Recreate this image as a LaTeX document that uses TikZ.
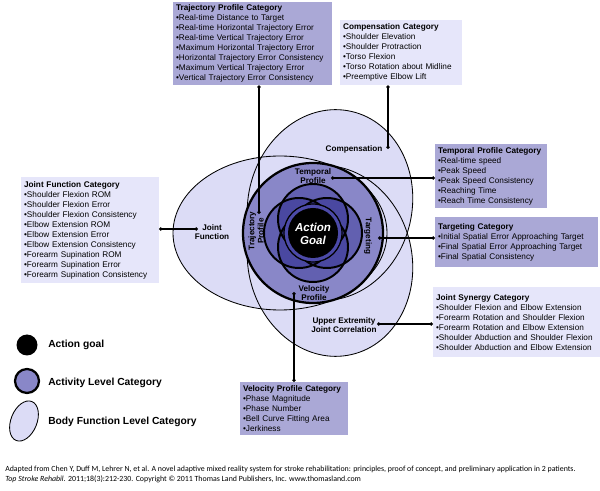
\documentclass[tikz,border=0pt]{standalone}
\usepackage{fontspec}
\setmainfont{Liberation Sans}
\newfontfamily\capfont{Carlito}
\usetikzlibrary{arrows.meta,positioning}
\definecolor{actfill}{RGB}{170,168,214}
\definecolor{bodyfill}{RGB}{230,230,250}
\definecolor{ellfill}{RGB}{220,220,246}
\definecolor{ringfill}{RGB}{137,135,200}
\definecolor{petal}{RGB}{40,38,140}
\definecolor{goalring}{RGB}{76,74,168}

\begin{document}
\begin{tikzpicture}[x=0.025cm, y=0.025cm,
    darkbox/.style={rectangle, fill=actfill, anchor=north west, align=left, inner xsep=2pt, inner ysep=1.5pt, font=\fontsize{5.85}{7.1}\selectfont},
    lightbox/.style={darkbox, fill=bodyfill},
    lbl/.style={align=center, font=\fontsize{5.8}{6.6}\selectfont\bfseries, inner sep=0pt},
    legendtxt/.style={anchor=west, font=\fontsize{7.3}{8}\selectfont\bfseries, inner sep=0pt},
    bodyline/.style={line width=0.6pt},
    link/.style={{Circle[length=2.4pt]}-{Circle[length=2.4pt]}, line width=0.8pt}
]
    \useasboundingbox (0,0) rectangle (600,-491);
    \coordinate (ctr) at (313,-233);

    % body function level
    \fill[ellfill] (280,-233) ellipse [x radius=107, y radius=77];
    \fill[ellfill, rotate around={-13:(330,-205)}] (330,-205) ellipse [x radius=82, y radius=96];
    \fill[ellfill, rotate around={13:(330,-261)}] (330,-261) ellipse [x radius=82, y radius=96];
    \draw[bodyline] (280,-233) ellipse [x radius=107, y radius=77];
    \draw[bodyline, rotate around={-13:(330,-205)}] (330,-205) ellipse [x radius=82, y radius=96];
    \draw[bodyline, rotate around={13:(330,-261)}] (330,-261) ellipse [x radius=82, y radius=96];

    % activity level
    \fill[ringfill] (ctr) circle (70);
    \foreach \a in {0,90,180,270}
        \fill[petal, fill opacity=0.4] (313,-233) ++(\a:14) circle (35);
    \foreach \a in {0,90,180,270}
        \draw[line width=1.4pt] (313,-233) ++(\a:14) circle (35);
    \draw[line width=1.6pt] (ctr) circle (70);
    \draw[fill=goalring, line width=0.9pt] (ctr) circle (29);
    \fill[black] (ctr) circle (25);
    \node[align=center, text=white, font=\fontsize{8.2}{9.4}\selectfont\bfseries\itshape] (goal) at (313,-233.5) {Action\\Goal};

    \node[lbl] (templbl) at (313,-176) {Temporal\\Profile};
    \node[lbl, rotate=-90] (targlbl) at (368,-236) {Targeting};
    \node[lbl] (vellbl) at (314,-293) {Velocity\\Profile};
    \node[lbl, rotate=90] (trajlbl) at (256,-231) {Trajectory\\Profile};
    \node[lbl] (jointlbl) at (212,-232) {Joint\\Function};
    \node[lbl] (complbl) at (354,-149.5) {Compensation};
    \node[lbl] (uelbl) at (344,-325) {Upper Extremity\\Joint Correlation};

    % category boxes
    \node[darkbox, text width=108.7pt, minimum height=58.8pt] (trajbox) at (173,-2) {\textbf{Trajectory Profile Category}\\
        •Real-time Distance to Target\\•Real-time Horizontal Trajectory Error\\•Real-time Vertical Trajectory Error\\
        •Maximum Horizontal Trajectory Error\\•Horizontal Trajectory Error Consistency\\
        •Maximum Vertical Trajectory Error\\•Vertical Trajectory Error Consistency};
    \node[lightbox, text width=82.5pt, minimum height=46.1pt] (compbox) at (340,-20) {\textbf{Compensation Category}\\
        •Shoulder Elevation\\•Shoulder Protraction\\•Torso Flexion\\•Torso Rotation about Midline\\•Preemptive Elbow Lift};
    \node[lightbox, text width=93.8pt, minimum height=75.1pt] (jointbox) at (21,-177) {\textbf{Joint Function Category}\\
        •Shoulder Flexion ROM\\•Shoulder Flexion Error\\•Shoulder Flexion Consistency\\•Elbow Extension ROM\\
        •Elbow Extension Error\\•Elbow Extension Consistency\\•Forearm Supination ROM\\•Forearm Supination Error\\
        •Forearm Supination Consistency};
    \node[darkbox, text width=75.4pt, minimum height=45.4pt] (tempbox) at (435,-144) {\textbf{Temporal Profile Category}\\
        •Real-time speed\\•Peak Speed\\•Peak Speed Consistency\\•Reaching Time\\•Reach Time Consistency};
    \node[darkbox, text width=111.5pt, minimum height=35.4pt] (targbox) at (435,-217) {\textbf{Targeting Category}\\
        •Initial Spatial Error Approaching Target\\•Final Spatial Error Approaching Target\\•Final Spatial Consistency};
    \node[lightbox, text width=114.3pt, minimum height=49.6pt] (synbox) at (433,-287) {\textbf{Joint Synergy Category}\\
        •Shoulder Flexion and Elbow Extension\\•Forearm Rotation and Shoulder Flexion\\•Forearm Rotation and Elbow Extension\\
        •Shoulder Abduction and Shoulder Flexion\\•Shoulder Abduction and Elbow Extension};
    \node[darkbox, text width=72.5pt, minimum height=37.6pt] (velbox) at (240,-382) {\textbf{Velocity Profile Category}\\
        •Phase Magnitude\\•Phase Number\\•Bell Curve Fitting Area\\•Jerkiness};

    % connectors
    \coordinate (trajend) at (259,-214);
    \coordinate (compend) at (388,-149);
    \coordinate (jointend) at (198,-229);
    \coordinate (tempend) at (331,-178);
    \coordinate (targend) at (378,-238);
    \coordinate (ueend) at (377,-324);
    \coordinate (velend) at (294,-292);
    \draw[link] (trajend |- trajbox.south) -- (trajend);
    \draw[link] (compend |- compbox.south) -- (compend);
    \draw[link] (jointbox.east |- jointend) -- (jointend);
    \draw[link] (tempbox.west |- tempend) -- (tempend);
    \draw[link] (targbox.west |- targend) -- (targend);
    \draw[link] (synbox.west |- ueend) -- (ueend);
    \draw[link] (velbox.north -| velend) -- (velend);

    % legend
    \fill[black] (27,-345) circle (10.5);
    \draw[fill=ringfill, line width=1.6pt] (27,-381) circle (12);
    \draw[fill=ellfill, bodyline, rotate around={-22:(24,-421)}] (24,-421) ellipse [x radius=13, y radius=21];
    \node[legendtxt] (leg1) at (48,-345) {Action goal};
    \node[legendtxt] (leg2) at (48,-383) {Activity Level Category};
    \node[legendtxt] (leg3) at (48,-422) {Body Function Level Category};

    % source
    \node[anchor=base west, inner sep=0pt, font=\capfont\fontsize{5.6}{6.5}\selectfont] (cap1) at (5,-472) {Adapted from Chen Y, Duff M, Lehrer N, et al. A novel adaptive mixed reality system for stroke rehabilitation: principles, proof of concept, and preliminary application in 2 patients.};
    \node[anchor=base west, inner sep=0pt, font=\capfont\fontsize{5.6}{6.5}\selectfont] (cap2) at (5,-482) {\textit{Top Stroke Rehabil.} 2011;18(3):212-230. Copyright © 2011 Thomas Land Publishers, Inc. www.thomasland.com};
\end{tikzpicture}
\end{document}
